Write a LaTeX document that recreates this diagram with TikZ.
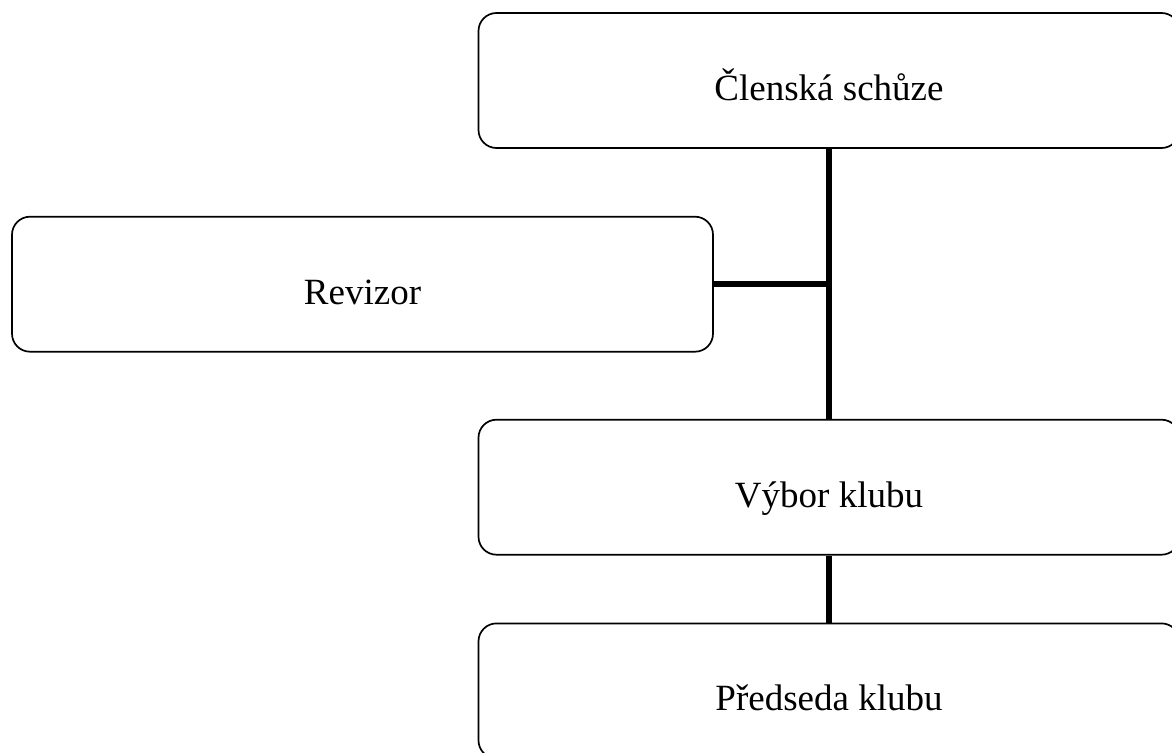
\documentclass[tikz,border=0pt]{standalone}
\usepackage{fontspec}
\setmainfont{Liberation Serif}
\usetikzlibrary{positioning}
\tikzset{
  orgbox/.style={draw,rounded corners=18pt,line width=1.7pt,minimum width=701pt,minimum height=135pt,
    inner sep=0pt,text height=40pt,text depth=0pt,font=\fontsize{37}{44}\selectfont},
  link/.style={line width=5.5pt}
}
\begin{document}
\begin{tikzpicture}
      \useasboundingbox (0,0) rectangle (1172pt,-752pt);
      \node[orgbox] (schuze) at (829pt,-80.5pt) {Členská schůze};
      \node[orgbox,below=67pt of schuze,xshift=-466.5pt] (revizor) {Revizor};
      \node[orgbox,below=270pt of schuze] (vybor) {Výbor klubu};
      \node[orgbox,below=67pt of vybor] (predseda) {Předseda klubu};
      \draw[link] (schuze.south) -- (vybor.north) (vybor.south) -- (predseda.north);
      \draw[link] (revizor.east) -- (revizor.east -| schuze.south);
    \end{tikzpicture}
\end{document}
